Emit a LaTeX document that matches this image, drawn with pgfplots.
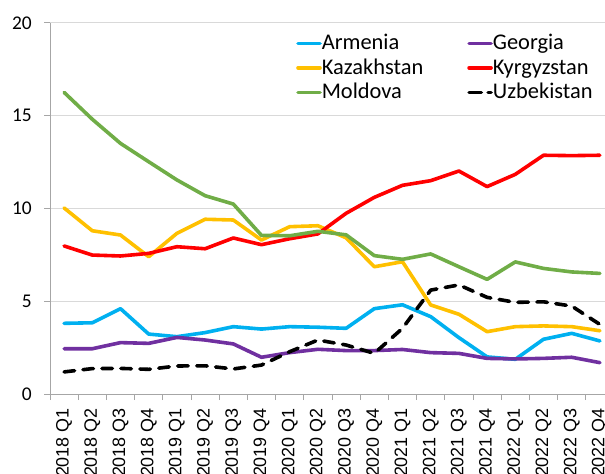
\documentclass[border=0pt]{standalone}
\usepackage{fontspec}
\setmainfont{Carlito}
\newfontfamily\arialf{Liberation Sans}
\usepackage{pgfplots}
\pgfplotsset{compat=1.18}
\definecolor{carm}{HTML}{00B0F0}
\definecolor{cgeo}{HTML}{7030A0}
\definecolor{ckaz}{HTML}{FFC000}
\definecolor{ckyr}{HTML}{FF0000}
\definecolor{cmol}{HTML}{70AD47}
\definecolor{gridgray}{HTML}{D9D9D9}
\definecolor{axisgray}{HTML}{A6A6A6}
\begin{document}
\begin{tikzpicture}
\begin{axis}[
  at={(50bp,80bp)}, anchor=south west,
  scale only axis, width=564bp, height=371bp,
  xmin=-0.5, xmax=19.5, ymin=0, ymax=20,
  axis lines=left, axis line style={-, draw=axisgray, line width=1bp},
  xtick={0,...,19},
  xticklabels={2018 Q1,2018 Q2,2018 Q3,2018 Q4,2019 Q1,2019 Q2,2019 Q3,2019 Q4,2020 Q1,2020 Q2,2020 Q3,2020 Q4,2021 Q1,2021 Q2,2021 Q3,2021 Q4,2022 Q1,2022 Q2,2022 Q3,2022 Q4},
  minor xtick={-0.5,0.5,...,19.5},
  ytick={0,5,10,15,20},
  tick align=outside, major tick length=6bp, minor tick length=6bp,
  tick style={draw=axisgray, line width=1bp},
  major x tick style={draw=none},
  ymajorgrids, grid style={draw=gridgray, line width=1bp},
  /pgf/number format/assume math mode=true,
  xticklabel style={rotate=90, anchor=east, font=\arialf\fontsize{18}{20}\selectfont, inner xsep=8bp},
  yticklabel style={anchor=east, font=\fontsize{19.5}{22}\selectfont, inner xsep=12bp},
  every axis plot/.append style={line width=3.6bp, line join=round, line cap=round, no markers},
  legend image code/.code={\path (0bp,0bp) -- (22bp,0bp); \draw[#1] (1.75bp,0bp) -- (20.25bp,0bp);},
  legend cell align=left,
  legend columns=2,
  legend style={at={(rel axis cs:0.4362,0.974)}, anchor=north west, draw=none, fill=none, inner sep=0pt,
    font=\fontsize{22.5}{27}\selectfont, row sep=3.5bp,
    nodes={inner sep=0pt, text height=17bp, text depth=4bp},
    /tikz/every even column/.append style={column sep=44bp}},
]
\addplot[carm] coordinates {(0,3.81)(1,3.84)(2,4.6)(3,3.23)(4,3.09)(5,3.31)(6,3.63)(7,3.5)(8,3.63)(9,3.6)(10,3.54)(11,4.6)(12,4.81)(13,4.17)(14,3.04)(15,2.0)(16,1.87)(17,2.95)(18,3.27)(19,2.86)};
\addlegendentry{Armenia}
\addplot[cgeo] coordinates {(0,2.44)(1,2.44)(2,2.77)(3,2.73)(4,3.05)(5,2.91)(6,2.7)(7,1.98)(8,2.23)(9,2.41)(10,2.34)(11,2.34)(12,2.4)(13,2.23)(14,2.19)(15,1.92)(16,1.89)(17,1.92)(18,1.98)(19,1.69)};
\addlegendentry{Georgia}
\addplot[ckaz] coordinates {(0,10.03)(1,8.8)(2,8.57)(3,7.4)(4,8.66)(5,9.42)(6,9.38)(7,8.3)(8,9.02)(9,9.07)(10,8.42)(11,6.86)(12,7.13)(13,4.8)(14,4.3)(15,3.36)(16,3.63)(17,3.67)(18,3.63)(19,3.41)};
\addlegendentry{Kazakhstan}
\addplot[ckyr] coordinates {(0,7.98)(1,7.49)(2,7.44)(3,7.58)(4,7.94)(5,7.83)(6,8.41)(7,8.05)(8,8.37)(9,8.63)(10,9.74)(11,10.6)(12,11.25)(13,11.5)(14,12.02)(15,11.18)(16,11.84)(17,12.87)(18,12.85)(19,12.87)};
\addlegendentry{Kyrgyzstan}
\addplot[cmol] coordinates {(0,16.26)(1,14.81)(2,13.51)(3,12.52)(4,11.54)(5,10.69)(6,10.24)(7,8.55)(8,8.53)(9,8.77)(10,8.58)(11,7.46)(12,7.26)(13,7.55)(14,6.86)(15,6.18)(16,7.12)(17,6.77)(18,6.58)(19,6.5)};
\addlegendentry{Moldova}
\addplot[black, dash pattern=on 10.5bp off 8.5bp]
  coordinates {(0,1.19)(1,1.37)(2,1.38)(3,1.33)(4,1.51)(5,1.52)(6,1.35)(7,1.56)(8,2.28)(9,2.91)(10,2.64)(11,2.19)(12,3.54)(13,5.6)(14,5.88)(15,5.21)(16,4.94)(17,4.97)(18,4.74)(19,3.75)};
\addlegendentry{Uzbekistan}
\end{axis}
\pgfresetboundingbox
\useasboundingbox (0,0) rectangle (605bp,474bp);
\end{tikzpicture}
\end{document}
